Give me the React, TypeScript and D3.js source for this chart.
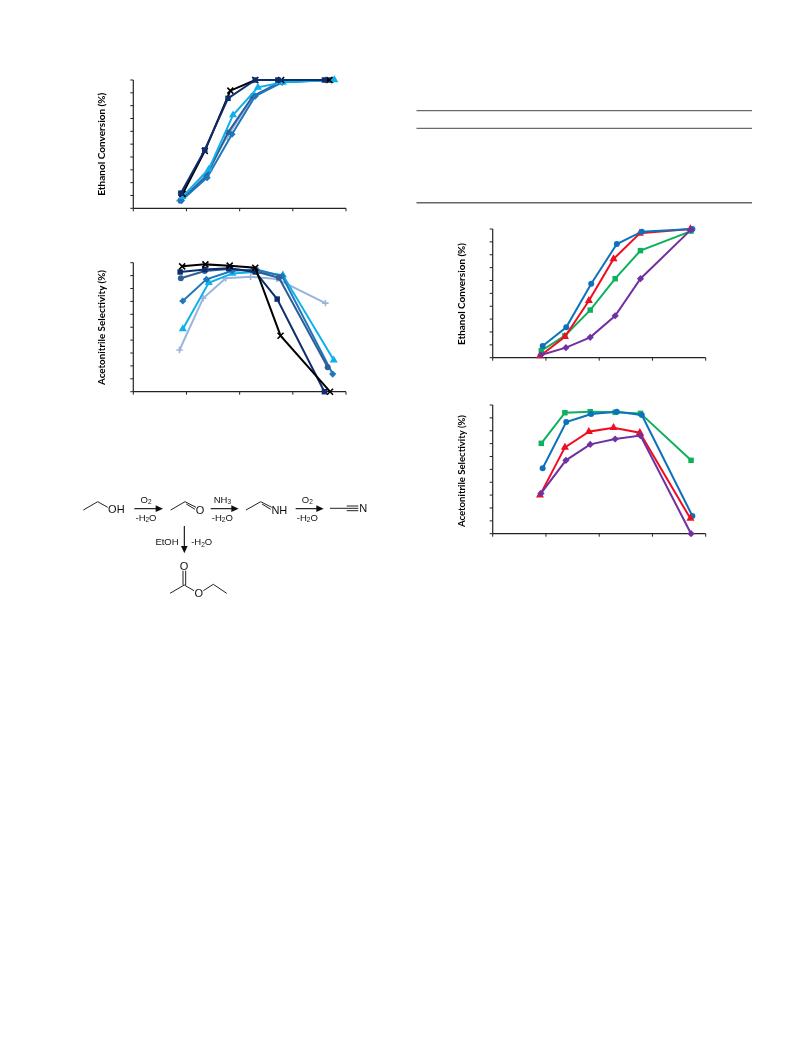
import React from 'react';
import * as d3 from 'd3';

type Shape = 'x' | 'square' | 'triangle' | 'diamond' | 'circle' | 'plus';
type Series = { name: string; color: string; shape: Shape; xs: number[]; ys: number[] };

const xTicks = [200, 300, 400, 500, 600];
const yTicks = [0, 10, 20, 30, 40, 50, 60, 70, 80, 90, 100];

const blackXa = [292.5, 334.4, 382.5, 429.4, 478.1, 568.8];
const blackYa = [11.2, 44.7, 91.7, 100, 100, 100];
const navyXa = [289.4, 334.4, 378.1, 429.4, 471.9, 559.4];
const navyYa = [11.7, 45.5, 85.7, 100, 100, 100];
const slateXa = [288.8, 337.5, 378.1, 425, 478.1, 568.8];
const slateYa = [6, 25.2, 59, 87.5, 98.4, 100];
const midXa = [290.6, 338.8, 385.6, 429.4, 480, 575];
const midYa = [6, 23.9, 57.7, 87.5, 98.2, 100];
const lightXa = [292.5, 341.9, 387.5, 434.4, 481.3, 578.1];
const lightYa = [9.1, 30.4, 72.7, 94.3, 98.2, 100];
const periXa = [286.3, 334.4, 376.3, 423.1, 473.1, 561.3];
const periYa = [6, 26, 55.8, 85.7, 98.4, 100];

const blackXb = [291.9, 335.6, 381.3, 429.4, 476.9, 570];
const blackYb = [97.2, 98.7, 97.7, 96.1, 43.4, 0];
const navyXb = [288.1, 334.4, 379.4, 429.4, 470.6, 559.4];
const navyYb = [92.8, 94.8, 95.6, 92.8, 71.8, 0];
const slateXb = [289.4, 334.4, 379.4, 425, 473.8, 565.6];
const slateYb = [87.9, 93.5, 95.1, 93.8, 88.4, 18.9];
const midXb = [293.1, 337.5, 386.3, 431.3, 480, 575];
const midYb = [70.3, 87.1, 93.8, 94.8, 89.7, 13.7];
const lightXb = [293.1, 341.9, 386.3, 434.4, 481.3, 576.9];
const lightYb = [48.6, 84.5, 91.7, 93, 90.4, 24.5];
const periXb = [286.9, 331.3, 373.8, 420.6, 470, 561.3];
const periYb = [32.3, 72.4, 87.9, 89.1, 87.3, 68.7];

const blueX = [293.8, 338.1, 385, 433.1, 480, 575];
const redX = [288.8, 335.6, 380.6, 426.9, 476.3, 571.3];
const greenX = [291.3, 335.6, 383.1, 430, 477.5, 572.5];
const purpleX = [290.6, 337.5, 383.1, 430, 477.5, 572.5];

const blueYc = [9.1, 23.6, 57.5, 88.3, 97.9, 100];
const redYc = [1.3, 16.3, 44.3, 76.7, 96.6, 100];
const greenYc = [5.4, 17.1, 37, 61.4, 83.2, 98.4];
const purpleYc = [2.1, 7.8, 15.8, 32.6, 61.4, 99.5];

const greenYd = [70.2, 94, 94.8, 94.3, 93.5, 57];
const blueYd = [50.8, 86.8, 93, 94.8, 92.2, 13.7];
const redYd = [30, 67.1, 79.3, 82.4, 78.5, 11.9];
const purpleYd = [31.3, 57, 69.4, 73.6, 76.2, 0];

const BLACK = '#000000', NAVY = '#0f2f6e', SLATE = '#2f5f97', MID = '#1f77bd', LIGHT = '#0fb0ea', PERI = '#9ab5dc';
const BLUE = '#0b72bd', RED = '#f01020', GREEN = '#0cb05c', PURPLE = '#7030a0';

const chartA: Series[] = [
  { name: 'a1', color: PERI, shape: 'plus', xs: periXa, ys: periYa },
  { name: 'a2', color: SLATE, shape: 'circle', xs: slateXa, ys: slateYa },
  { name: 'a3', color: MID, shape: 'diamond', xs: midXa, ys: midYa },
  { name: 'a4', color: LIGHT, shape: 'triangle', xs: lightXa, ys: lightYa },
  { name: 'a5', color: BLACK, shape: 'x', xs: blackXa, ys: blackYa },
  { name: 'a6', color: NAVY, shape: 'square', xs: navyXa, ys: navyYa },
];
const chartB: Series[] = [
  { name: 'b1', color: PERI, shape: 'plus', xs: periXb, ys: periYb },
  { name: 'b2', color: LIGHT, shape: 'triangle', xs: lightXb, ys: lightYb },
  { name: 'b3', color: MID, shape: 'diamond', xs: midXb, ys: midYb },
  { name: 'b4', color: SLATE, shape: 'circle', xs: slateXb, ys: slateYb },
  { name: 'b5', color: NAVY, shape: 'square', xs: navyXb, ys: navyYb },
  { name: 'b6', color: BLACK, shape: 'x', xs: blackXb, ys: blackYb },
];
const chartC: Series[] = [
  { name: 'c1', color: GREEN, shape: 'square', xs: greenX, ys: greenYc },
  { name: 'c2', color: RED, shape: 'triangle', xs: redX, ys: redYc },
  { name: 'c3', color: BLUE, shape: 'circle', xs: blueX, ys: blueYc },
  { name: 'c4', color: PURPLE, shape: 'diamond', xs: purpleX, ys: purpleYc },
];
const chartD: Series[] = [
  { name: 'd1', color: GREEN, shape: 'square', xs: greenX, ys: greenYd },
  { name: 'd2', color: BLUE, shape: 'circle', xs: blueX, ys: blueYd },
  { name: 'd3', color: RED, shape: 'triangle', xs: redX, ys: redYd },
  { name: 'd4', color: PURPLE, shape: 'diamond', xs: purpleX, ys: purpleYd },
];

const FONT = 'Lato, "Open Sans", sans-serif';
const CHEM = '"Liberation Sans", Arial, sans-serif';

function Marker({ shape, color, x, y }: { shape: Shape; color: string; x: number; y: number }) {
  const t = `translate(${x},${y})`;
  if (shape === 'x' || shape === 'plus') {
    const p = shape === 'x'
      ? 'M-3,-3L3,3M-3,3L3,-3'
      : 'M-3.2,0L3.2,0M0,-3.2L0,3.2';
    return <path d={p} transform={t} stroke={color} strokeWidth={1.6} fill="none" />;
  }
  if (shape === 'diamond') {
    return <path d="M0,-3.6L3.6,0L0,3.6L-3.6,0Z" transform={t} fill={color} />;
  }
  const typ = shape === 'square' ? d3.symbolSquare : shape === 'triangle' ? d3.symbolTriangle : d3.symbolCircle;
  const size = shape === 'square' ? 30 : 28;
  return <path d={d3.symbol().type(typ).size(size)() || ''} transform={t} fill={color} />;
}

function Chart({ left, right, top, bottom, series, label, labelBase, labelMid, labelLen }: { left: number; right: number; top: number; bottom: number; series: Series[]; label: string; labelBase: number; labelMid: number; labelLen: number }) {
  const x = d3.scaleLinear().domain([200, 600]).range([left, right]);
  const y = d3.scaleLinear().domain([0, 100]).range([bottom, top]);
  const axis = '#222222';
  return (
    <g>
      <line x1={left} x2={right} y1={bottom} y2={bottom} stroke={axis} strokeWidth={1.2} />
      <line x1={left} x2={left} y1={top} y2={bottom} stroke={axis} strokeWidth={1.2} />
      {xTicks.map(t => <line key={t} x1={x(t)} x2={x(t)} y1={bottom} y2={bottom + 3} stroke={axis} strokeWidth={1} />)}
      {yTicks.map(t => <line key={t} x1={left - 3} x2={left} y1={y(t)} y2={y(t)} stroke={axis} strokeWidth={1} />)}
      <text transform={`translate(${labelBase},${labelMid}) rotate(-90)`} textAnchor="middle" fontFamily={FONT} fontWeight={700} fontSize={9.4} fill="#000" textLength={labelLen} lengthAdjust="spacingAndGlyphs">{label}</text>
      {series.map(s => {
        const pts = s.xs.map((v, i) => [x(v), y(s.ys[i])] as [number, number]);
        return (
          <g key={s.name}>
            <path d={d3.line()(pts) || ''} fill="none" stroke={s.color} strokeWidth={2} />
            {pts.map((p, i) => <Marker key={i} shape={s.shape} color={s.color} x={p[0]} y={p[1]} />)}
          </g>
        );
      })}
    </g>
  );
}

const zx = (v: number) => 70 + v / 3;
const zy = (v: number) => 480 + v / 3;
const zp = (pts: number[][]) => pts.map(p => `${zx(p[0]).toFixed(1)},${zy(p[1]).toFixed(1)}`).join(' ');

const bondPaths: number[][][] = [
  [[40, 90], [83, 65], [113, 82]],
  [[302, 90], [345, 65], [378, 82]],
  [[349, 72], [375, 88]],
  [[528, 90], [572, 65], [605, 82]],
  [[576, 72], [602, 88]],
  [[780, 85], [865, 85]],
  [[830, 78], [865, 78]],
  [[830, 92], [865, 92]],
  [[300, 340], [343, 315], [372, 332]],
  [[400, 332], [430, 313], [470, 340]],
  [[339, 315], [339, 272]],
  [[347, 315], [347, 272]],
];
const hArrows = [[193, 265], [422, 492], [677, 747]];

function Sub({ x, y, size, parts }: { x: number; y: number; size: number; parts: string[] }) {
  return (
    <text x={x} y={y} textAnchor="middle" fontFamily={CHEM} fontSize={size} fill="#111">
      {parts.map((p, i) => i % 2 === 1
        ? <tspan key={i} fontSize={size * 0.68} dy={1.5}>{p}</tspan>
        : <tspan key={i} dy={i > 0 ? -1.5 : 0}>{p}</tspan>)}
    </text>
  );
}

function Scheme() {
  const big = 11, small = 9.5;
  return (
    <g>
      {bondPaths.map((b, i) => <polyline key={i} points={zp(b)} fill="none" stroke="#222" strokeWidth={1} />)}
      {hArrows.map((a, i) => (
        <g key={i}>
          <line x1={zx(a[0])} x2={zx(a[1])} y1={zy(86)} y2={zy(86)} stroke="#111" strokeWidth={1.1} />
          <path d={`M${zx(a[1] - 8)},${zy(76)}L${zx(a[1] + 14)},${zy(86)}L${zx(a[1] - 8)},${zy(96)}Z`} fill="#111" />
        </g>
      ))}
      <line x1={zx(343)} x2={zx(343)} y1={zy(138)} y2={zy(205)} stroke="#111" strokeWidth={1.1} />
      <path d={`M${zx(333)},${zy(198)}L${zx(343)},${zy(220)}L${zx(353)},${zy(198)}Z`} fill="#111" />
      <Sub x={zx(139)} y={zy(100)} size={big} parts={['OH']} />
      <Sub x={zx(390)} y={zy(102)} size={big} parts={['O']} />
      <Sub x={zx(628)} y={zy(102)} size={big} parts={['NH']} />
      <Sub x={zx(880)} y={zy(97)} size={big} parts={['N']} />
      <Sub x={zx(342)} y={zy(270)} size={big} parts={['O']} />
      <Sub x={zx(386)} y={zy(350)} size={big} parts={['O']} />
      <Sub x={zx(228)} y={zy(68)} size={small} parts={['O', '2']} />
      <Sub x={zx(712)} y={zy(68)} size={small} parts={['O', '2']} />
      <Sub x={zx(457)} y={zy(68)} size={small} parts={['NH', '3']} />
      <Sub x={zx(228)} y={zy(122)} size={small} parts={['-H', '2', 'O']} />
      <Sub x={zx(457)} y={zy(122)} size={small} parts={['-H', '2', 'O']} />
      <Sub x={zx(712)} y={zy(122)} size={small} parts={['-H', '2', 'O']} />
      <Sub x={zx(291)} y={zy(195)} size={small} parts={['EtOH']} />
      <Sub x={zx(395)} y={zy(195)} size={small} parts={['-H', '2', 'O']} />
    </g>
  );
}

export default function App() {
  return (
    <svg width={793} height={1057} style={{ position: 'absolute', left: 0, top: 0, background: '#fff' }}>
      <defs>
        <filter id="soft" x="0" y="0" width="100%" height="100%"><feGaussianBlur stdDeviation="0.35" /></filter>
      </defs>
      <g filter="url(#soft)">
        <Chart left={133.3} right={346} top={80} bottom={208.3} series={chartA} label="Ethanol Conversion (%)" labelBase={105.3} labelMid={144.2} labelLen={103} />
        <Chart left={133.3} right={346} top={262.7} bottom={391.7} series={chartB} label="Acetonitrile Selectivity (%)" labelBase={105.3} labelMid={327.5} labelLen={115} />
        <Chart left={492.7} right={705.7} top={229} bottom={357.7} series={chartC} label="Ethanol Conversion (%)" labelBase={464.8} labelMid={294} labelLen={102} />
        <Chart left={492.7} right={705.7} top={405} bottom={533.7} series={chartD} label="Acetonitrile Selectivity (%)" labelBase={464.8} labelMid={471} labelLen={112} />
        <line x1={416.5} x2={752} y1={110.7} y2={110.7} stroke="#444" strokeWidth={1} />
        <line x1={416.5} x2={752} y1={128.3} y2={128.3} stroke="#444" strokeWidth={1} />
        <line x1={416.5} x2={752} y1={202.7} y2={202.7} stroke="#666" strokeWidth={1.4} />
        <Scheme />
      </g>
    </svg>
  );
}
